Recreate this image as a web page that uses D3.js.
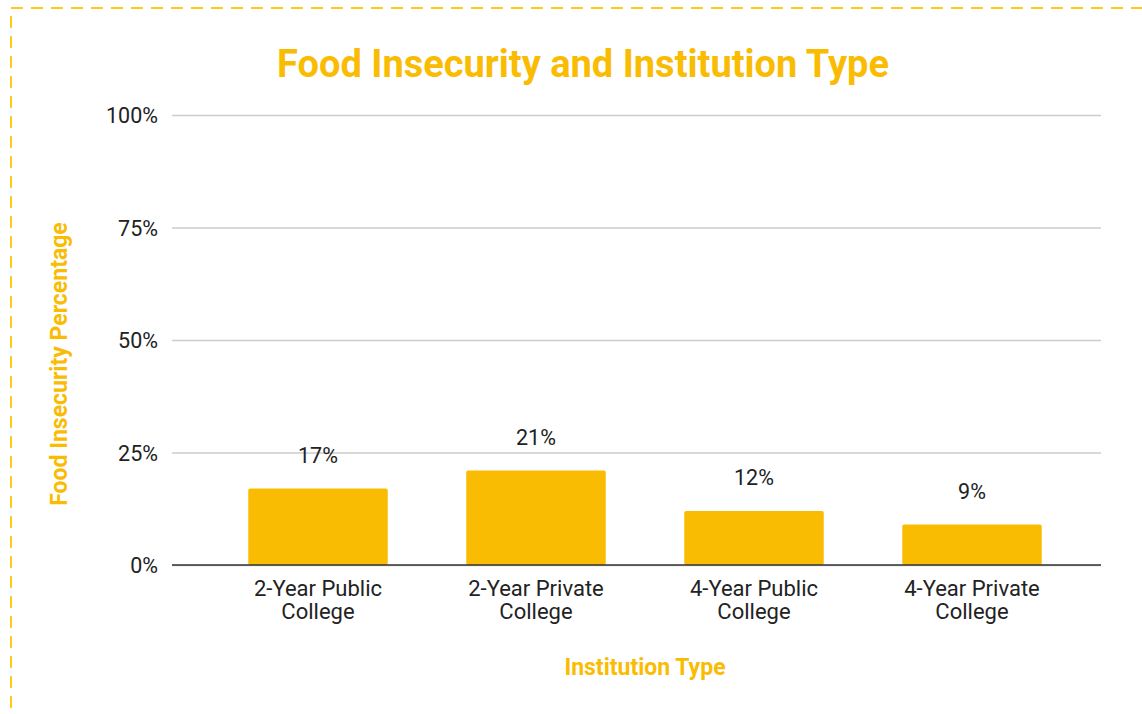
<!DOCTYPE html>
<html>
<head>
<meta charset="utf-8">
<script src="https://cdn.jsdelivr.net/npm/d3@7"></script>
<style>
  body { margin: 0; background: #fff; }
  text { font-family: Roboto, "Noto Sans", sans-serif; }
</style>
</head>
<body>
<svg id="svg" width="1142" height="714"></svg>
<script>
var categories = [["2-Year Public", "College"], ["2-Year Private", "College"], ["4-Year Public", "College"], ["4-Year Private", "College"]];
var values = [17, 21, 12, 9];
var yTicks = [0, 25, 50, 75, 100];

var yellow = "#f9bc02";
var cont = d3.select("#svg");

// dashed frame
cont.append("rect")
  .attr("x", 11).attr("y", 8)
  .attr("width", 1160).attr("height", 740)
  .attr("fill", "none")
  .attr("stroke", "#ffc91a")
  .attr("stroke-width", 2)
  .attr("stroke-dasharray", "12,8");

var y = d3.scaleLinear().domain([0, 100]).range([565, 115]);
var x = d3.scaleBand().domain(d3.range(categories.length))
  .range([209, 1081]).paddingInner(0.36).paddingOuter(0.18);

// grid + y axis
var yAxis = cont.append("g")
  .attr("transform", "translate(172,0)")
  .call(d3.axisLeft(y).tickValues(yTicks).tickSize(-929).tickFormat(function(d) { return d + "%"; }));
yAxis.select(".domain").remove();
yAxis.selectAll(".tick line").attr("stroke", "#cccccc").attr("stroke-width", 1.3);
yAxis.selectAll(".tick text")
  .attr("x", -14).attr("dy", "0.35em")
  .attr("font-size", 21.5).attr("fill", "#222")
  .style("font-family", "Roboto, sans-serif");

// bars
cont.selectAll("rect.bar").data(values).enter().append("rect")
  .attr("class", "bar")
  .attr("x", function(d, i) { return x(i); })
  .attr("y", function(d) { return y(d); })
  .attr("width", x.bandwidth())
  .attr("height", function(d) { return y(0) - y(d); })
  .attr("rx", 2)
  .attr("fill", yellow);

// baseline
cont.append("line")
  .attr("x1", 172).attr("x2", 1101)
  .attr("y1", y(0)).attr("y2", y(0))
  .attr("stroke", "#333").attr("stroke-width", 1.3);

// value labels
cont.selectAll("text.val").data(values).enter().append("text")
  .attr("class", "val")
  .attr("x", function(d, i) { return x(i) + x.bandwidth() / 2; })
  .attr("y", function(d) { return y(d) - 26; })
  .attr("text-anchor", "middle")
  .attr("font-size", 21.5).attr("fill", "#222")
  .text(function(d) { return d + "%"; });

// category labels
var cats = cont.selectAll("text.cat").data(categories).enter().append("text")
  .attr("class", "cat")
  .attr("text-anchor", "middle")
  .attr("font-size", 22).attr("fill", "#222");
cats.selectAll("tspan").data(function(d, i) { return d.map(function(t) { return [t, i]; }); })
  .enter().append("tspan")
  .attr("x", function(d) { return x(d[1]) + x.bandwidth() / 2; })
  .attr("y", function(d, j) { return 596 + j * 23; })
  .text(function(d) { return d[0]; });

// title
cont.append("text")
  .attr("x", 583).attr("y", 77)
  .attr("text-anchor", "middle")
  .attr("font-size", 38).attr("font-weight", "bold")
  .attr("fill", yellow)
  .text("Food Insecurity and Institution Type");

// axis titles
cont.append("text")
  .attr("x", 645).attr("y", 675)
  .attr("text-anchor", "middle")
  .attr("font-size", 23).attr("font-weight", "bold")
  .attr("fill", yellow)
  .text("Institution Type");

cont.append("text")
  .attr("transform", "translate(67,364) rotate(-90)")
  .attr("text-anchor", "middle")
  .attr("font-size", 23).attr("font-weight", "bold")
  .attr("fill", yellow)
  .text("Food Insecurity Percentage");
</script>
</body>
</html>
